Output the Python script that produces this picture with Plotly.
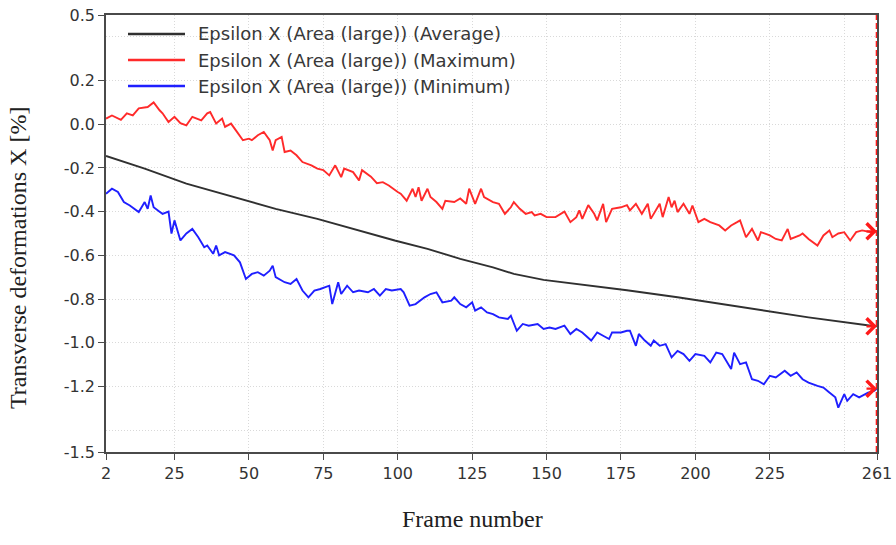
import plotly.graph_objects as go

# ---------------- data ----------------
frames_max = [2, 4, 7, 9, 11, 13, 16, 18, 20, 21, 23, 25, 27, 29, 31, 34, 36, 37, 39, 41,
              42, 44, 46, 48, 50, 51, 53, 55, 57, 58, 59, 61, 62, 64, 66, 68, 71, 73, 75, 77,
              79, 81, 82, 85, 87, 88, 91, 93, 95, 97, 100, 101, 103, 105, 106, 107, 108, 110, 111, 113,
              115, 116, 119, 121, 123, 124, 126, 128, 129, 132, 134, 136, 138, 139, 141, 143, 145, 146, 148, 150,
              153, 154, 156, 158, 160, 161, 162, 164, 166, 167, 169, 170, 172, 175, 177, 178, 180, 182, 184, 185,
              188, 189, 191, 192, 193, 194, 196, 198, 199, 201, 203, 205, 208, 210, 212, 214, 215, 217, 219, 221,
              222, 225, 227, 229, 231, 232, 235, 236, 238, 241, 243, 245, 246, 248, 250, 252, 254, 256, 259, 261]
max_vals = [0.026, 0.04, 0.02, 0.05, 0.041, 0.073, 0.079, 0.10, 0.064, 0.05, 0.01, 0.034, 0.005, -0.005, 0.034, 0.018, 0.05, 0.056, 0.003, 0.026,
            -0.012, 0.003, -0.035, -0.073, -0.066, -0.073, -0.05, -0.035, -0.073, -0.12, -0.073, -0.058, -0.127, -0.12, -0.142, -0.173, -0.188, -0.203, -0.21, -0.234,
            -0.188, -0.242, -0.203, -0.219, -0.257, -0.21, -0.24, -0.27, -0.265, -0.28, -0.31, -0.318, -0.35, -0.295, -0.333, -0.288, -0.35, -0.295, -0.333, -0.356,
            -0.387, -0.35, -0.356, -0.34, -0.364, -0.295, -0.364, -0.295, -0.333, -0.356, -0.364, -0.41, -0.38, -0.356, -0.387, -0.41, -0.402, -0.417, -0.41, -0.425,
            -0.425, -0.417, -0.40, -0.448, -0.425, -0.394, -0.433, -0.37, -0.41, -0.44, -0.364, -0.448, -0.387, -0.38, -0.37, -0.394, -0.364, -0.41, -0.364, -0.433,
            -0.364, -0.425, -0.333, -0.38, -0.35, -0.402, -0.364, -0.41, -0.372, -0.448, -0.433, -0.448, -0.463, -0.486, -0.463, -0.448, -0.44, -0.517, -0.479, -0.532,
            -0.494, -0.509, -0.525, -0.532, -0.479, -0.525, -0.509, -0.50, -0.525, -0.555, -0.509, -0.486, -0.517, -0.50, -0.494, -0.532, -0.494, -0.486, -0.494, -0.49]

frames_avg = [2, 15, 29, 45, 59, 73, 87, 99, 110, 121, 132, 139, 149, 160, 171, 177, 194, 216, 238, 259, 261]
avg_vals = [-0.145, -0.203, -0.272, -0.333, -0.387, -0.433, -0.486, -0.532, -0.57, -0.616, -0.655, -0.685,
            -0.712, -0.73, -0.748, -0.76, -0.792, -0.838, -0.884, -0.922, -0.925]

frames_min = [2, 4, 6, 8, 10, 13, 15, 16, 17, 18, 20, 21, 23, 24, 25, 27, 29, 31, 33, 35,
              36, 38, 39, 40, 42, 45, 47, 49, 51, 53, 55, 57, 58, 59, 62, 64, 66, 68, 70, 72,
              74, 77, 78, 80, 81, 83, 85, 87, 90, 92, 94, 96, 98, 101, 102, 104, 106, 109, 111, 113,
              115, 118, 119, 121, 123, 125, 126, 128, 130, 132, 134, 137, 138, 140, 142, 144, 147, 149, 151, 153,
              156, 158, 160, 162, 165, 167, 169, 171, 172, 175, 177, 178, 180, 181, 183, 185, 186, 188, 190, 192,
              194, 196, 198, 200, 203, 205, 207, 209, 212, 213, 215, 217, 219, 221, 223, 225, 227, 230, 232, 234,
              236, 238, 241, 243, 245, 247, 248, 250, 251, 253, 255, 258, 260, 261]
min_vals = [-0.318, -0.295, -0.31, -0.356, -0.372, -0.402, -0.356, -0.387, -0.326, -0.38, -0.40, -0.41, -0.40, -0.50, -0.44, -0.532, -0.50, -0.479, -0.517, -0.563,
            -0.555, -0.593, -0.555, -0.60, -0.585, -0.60, -0.632, -0.708, -0.685, -0.677, -0.693, -0.67, -0.647, -0.70, -0.723, -0.731, -0.708, -0.761, -0.792, -0.761,
            -0.754, -0.739, -0.823, -0.723, -0.777, -0.739, -0.769, -0.761, -0.769, -0.754, -0.784, -0.754, -0.761, -0.754, -0.769, -0.83, -0.823, -0.792, -0.777, -0.769,
            -0.815, -0.807, -0.792, -0.823, -0.838, -0.815, -0.853, -0.838, -0.861, -0.869, -0.884, -0.891, -0.876, -0.945, -0.914, -0.922, -0.914, -0.937, -0.93, -0.937,
            -0.922, -0.96, -0.937, -0.953, -0.99, -0.953, -0.968, -0.983, -0.953, -0.953, -0.945, -0.945, -1.014, -0.96, -0.99, -1.014, -0.99, -1.014, -1.006, -1.067,
            -1.037, -1.052, -1.083, -1.052, -1.06, -1.09, -1.045, -1.052, -1.12, -1.045, -1.098, -1.09, -1.167, -1.174, -1.19, -1.151, -1.159, -1.128, -1.151, -1.136,
            -1.167, -1.182, -1.197, -1.205, -1.228, -1.25, -1.297, -1.235, -1.266, -1.235, -1.25, -1.228, -1.22, -1.21]

series_names = ["Epsilon X (Area (large)) (Average)",
                "Epsilon X (Area (large)) (Maximum)",
                "Epsilon X (Area (large)) (Minimum)"]
series_colors = ["#303030", "#ff2a2a", "#1f1fff"]

x_tickvals = [2, 25, 50, 75, 100, 125, 150, 175, 200, 225, 261]
x_gridvals = [25, 50, 75, 100, 125, 150, 175, 200, 225, 250]
y_tickvals = [0.5, 0.2, 0.0, -0.2, -0.4, -0.6, -0.8, -1.0, -1.2, -1.5]
y_ticktext = ["0.5", "0.2", "0.0", "-0.2", "-0.4", "-0.6", "-0.8", "-1.0", "-1.2", "-1.5"]
y_gridvals = [0.4, 0.2, 0.0, -0.2, -0.4, -0.6, -0.8, -1.0, -1.2, -1.4]
cursor_frame = 261

x_title = "Frame number"
y_title = "Transverse deformations X [%]"

# ---------------- figure ----------------
W, H = 896, 545
ML, MR, MT, MB = 106, 19, 15, 93
PW, PH = W - ML - MR, H - MT - MB


def px_to_paper(px, py):
    return (px - ML) / PW, (H - MB - py) / PH


fig = go.Figure()
series = [(frames_avg, avg_vals), (frames_max, max_vals), (frames_min, min_vals)]
for (fx, fy), name, col in zip(series, series_names, series_colors):
    fig.add_trace(go.Scatter(x=fx, y=fy, mode="lines", name=name,
                             line=dict(color=col, width=1.9), showlegend=False,
                             hoverinfo="skip"))

shapes = []
# red dashed cursor line
shapes.append(dict(type="line", xref="x", yref="paper", x0=cursor_frame, x1=cursor_frame,
                   y0=0, y1=1, line=dict(color="#ff1a1a", width=2.6, dash="6px,3px"), layer="above"))

annotations = []
# end-of-line cursor arrows
for v in [avg_vals[-1], max_vals[-1], min_vals[-1]]:
    annotations.append(dict(x=cursor_frame, y=v, xref="x", yref="y", ax=-12, ay=0,
                            text="", showarrow=True, arrowhead=4, arrowsize=1.4,
                            arrowwidth=2.2, arrowcolor="#ff1a1a", standoff=0))

# custom legend (white box + sample lines + labels)
bx0, by0 = px_to_paper(121, 98)
bx1, by1 = px_to_paper(512, 20)
shapes.append(dict(type="rect", xref="paper", yref="paper", x0=bx0, x1=bx1, y0=by0, y1=by1,
                   fillcolor="white", line=dict(width=0), layer="between"))
row_y = [34, 60, 86]
for name, col, ry in zip(series_names, series_colors, row_y):
    lx0, ly = px_to_paper(128, ry)
    lx1, _ = px_to_paper(185, ry)
    shapes.append(dict(type="line", xref="paper", yref="paper", x0=lx0, x1=lx1, y0=ly, y1=ly,
                       line=dict(color=col, width=2.4)))
    tx, _ = px_to_paper(196, ry)
    annotations.append(dict(x=tx, y=ly, xref="paper", yref="paper", text=name, showarrow=False,
                            xanchor="left", yanchor="middle",
                            font=dict(family="DejaVu Sans", size=18, color="#383838")))

# axis titles
tx, ty = px_to_paper(472, 519)
annotations.append(dict(x=tx, y=ty, xref="paper", yref="paper", text=x_title, showarrow=False,
                        xanchor="center", yanchor="middle",
                        font=dict(family="Liberation Serif", size=24, color="#202020")))
tx, ty = px_to_paper(18, 258)
annotations.append(dict(x=tx, y=ty, xref="paper", yref="paper", text=y_title, showarrow=False,
                        xanchor="center", yanchor="middle", textangle=-90,
                        font=dict(family="Liberation Serif", size=24, color="#202020")))

tickfont = dict(family="DejaVu Sans", size=16, color="#333333")
fig.update_layout(
    width=W, height=H, autosize=False,
    margin=dict(l=ML, r=MR, t=MT, b=MB, pad=0, autoexpand=False),
    paper_bgcolor="white", plot_bgcolor="white",
    shapes=shapes, annotations=annotations,
    xaxis=dict(range=[2, 261], tickmode="array", tickvals=x_tickvals,
               ticktext=[str(v) for v in x_tickvals], automargin=False,
               showgrid=False, zeroline=False,
               showline=True, linecolor="#4a4a4a", linewidth=1.5, mirror=True,
               ticks="outside", ticklen=6, tickwidth=1.2, tickcolor="#4a4a4a",
               tickfont=tickfont,
               minor=dict(tickmode="array", tickvals=x_gridvals, showgrid=True,
                          gridcolor="#d9d9d9", gridwidth=1, griddash="1px,2px", ticks="")),
    yaxis=dict(range=[-1.5, 0.5], tickmode="array", tickvals=y_tickvals, ticktext=y_ticktext,
               automargin=False,
               showgrid=False, zeroline=False,
               showline=True, linecolor="#4a4a4a", linewidth=1.5, mirror=True,
               ticks="outside", ticklen=6, tickwidth=1.2, tickcolor="#4a4a4a",
               tickfont=tickfont,
               minor=dict(tickmode="array", tickvals=y_gridvals, showgrid=True,
                          gridcolor="#d9d9d9", gridwidth=1, griddash="1px,2px", ticks="")),
)

fig.write_html("out.html", config={"displayModeBar": False},
               post_script="document.body.style.margin='0';document.body.style.overflow='hidden';")
